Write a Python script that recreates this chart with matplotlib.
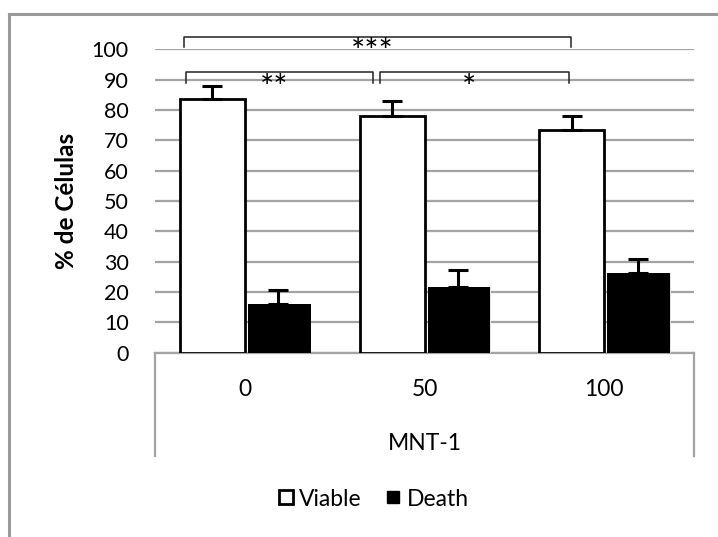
import matplotlib
matplotlib.use("Agg")
import matplotlib.pyplot as plt
from matplotlib.lines import Line2D
import numpy as np

plt.rcParams['font.family'] = ['Lato', 'DejaVu Sans']

# Data
concentrations = ["0", "50", "100"]
group_label = "MNT-1"
viable = [83.5, 78.0, 73.5]
viable_err = [4.3, 4.8, 4.5]
death = [15.9, 21.6, 26.3]
death_err = [4.8, 5.5, 4.7]
yticks = [0, 10, 20, 30, 40, 50, 60, 70, 80, 90, 100]
ylabel = "% de Células"
series_names = ["Viable", "Death"]

# Significance brackets: (left x, right x, top y, foot y, stars)
brackets = [
    (-0.34, 1.815, 104.2, 100.6, "***"),
    (-0.33, 0.713, 92.6, 88.8, "**"),
    (0.752, 1.805, 92.6, 88.8, "*"),
]

W, H = 718, 537
fig = plt.figure(figsize=(W / 100, H / 100), dpi=100)

# outer chart frame (top and left edges)
fig.add_artist(Line2D([8.5 / W, 8.5 / W], [0, 1 - 14 / H], transform=fig.transFigure,
                      color="#9a9a9a", lw=2.2))
fig.add_artist(Line2D([8.5 / W, 1], [1 - 14 / H, 1 - 14 / H], transform=fig.transFigure,
                      color="#9a9a9a", lw=2.2))

left, right = 155 / W, 694 / W
bottom, top = 1 - 352.7 / H, 1 - 49.3 / H
ax = fig.add_axes([left, bottom, right - left, top - bottom])

x = np.arange(len(concentrations))
bw = 0.36
grid_c = "#a3a3a3"

ax.set_ylim(0, 100)
ax.set_xlim(-0.5, len(concentrations) - 0.5)
ax.set_yticks(yticks)
ax.yaxis.grid(True, color=grid_c, lw=1.6)
ax.set_axisbelow(True)
for s in ["left", "right", "top"]:
    ax.spines[s].set_visible(False)
ax.spines["bottom"].set_color(grid_c)
ax.spines["bottom"].set_linewidth(1.6)
ax.tick_params(axis="y", length=0, pad=19, labelsize=15.5)
ax.tick_params(axis="x", length=0, labelbottom=False)

ax.bar(x - bw / 2, viable, bw, color="white", edgecolor="black", linewidth=2, zorder=3)
# soft shadow behind the filled bars
ax.bar(x + bw / 2 + 0.016, death, bw - 0.012, color="#e2e2e2", edgecolor="none", zorder=2.9)
ax.bar(x + bw / 2 + 0.012, death, bw - 0.012, color="black", edgecolor="none", zorder=3)

err_kw = dict(fmt="none", ecolor="black", elinewidth=2.2, capsize=7, capthick=2.2, zorder=4)
ax.errorbar(x - bw / 2, viable, yerr=[np.zeros(3), viable_err], **err_kw)
ax.errorbar(x + bw / 2 + 0.006, death, yerr=[np.zeros(3), death_err], **err_kw)

ax.set_ylabel(ylabel, fontsize=17.5, fontweight="bold")
ax.yaxis.set_label_coords(-(155 - 78) / (694 - 155), 0.5)

# significance brackets
for x0, x1, yt, yf, stars in brackets:
    ax.plot([x0, x0, x1, x1], [yf, yt, yt, yf], color="#222222", lw=1.1,
            clip_on=False, zorder=5, solid_joinstyle="round")
    ax.text((x0 + x1) / 2 - 0.03, yt - 8.5, stars, ha="center", va="baseline",
            fontsize=24, color="black", clip_on=False, zorder=6)

# category box under the axis
box_bottom = -(456 - 352.7) / 303.4
for xe in (0, 1):
    ax.plot([xe, xe], [0, box_bottom], transform=ax.transAxes, color=grid_c,
            lw=1.6, clip_on=False)
for xi, lab in zip(x, concentrations):
    ax.text(xi, -(389 - 352.7) / 3.034, lab, ha="center", va="center", fontsize=16.5)
ax.text(0.5, -(443 - 352.7) / 303.4, group_label, transform=ax.transAxes,
        ha="center", va="center", fontsize=16.5)

handles = [Line2D([], [], ls="none", marker="s", markersize=10.5, markerfacecolor="white",
                  markeredgecolor="black", markeredgewidth=2),
           Line2D([], [], ls="none", marker="s", markersize=8.6, markerfacecolor="black",
                  markeredgecolor="black")]
fig.legend(handles, series_names, loc="center", bbox_to_anchor=(373 / W, 1 - 499 / H),
           ncol=2, frameon=False, fontsize=16.5, handlelength=0.75,
           handletextpad=0.2, columnspacing=1.0)

fig.savefig("out.png", dpi=100)
